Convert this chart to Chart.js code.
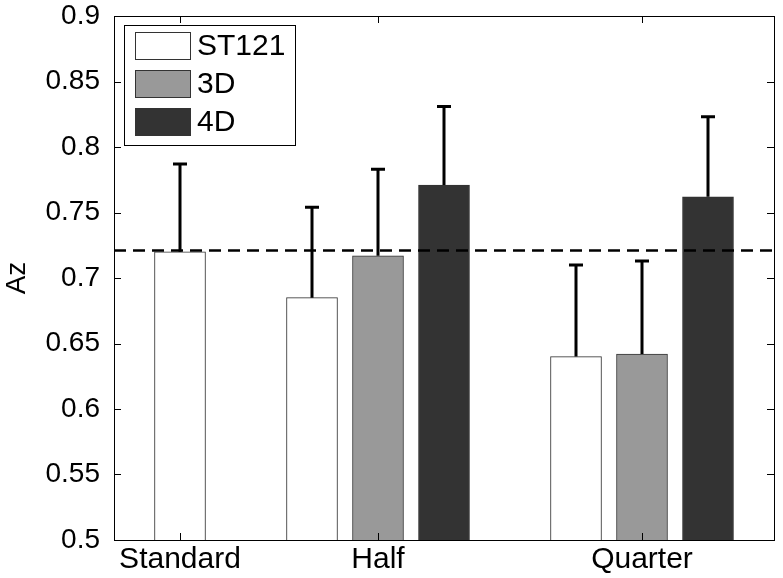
<!DOCTYPE html>
<html>
<head>
<meta charset="utf-8">
<script src="https://cdn.jsdelivr.net/npm/chart.js@4.4.0/dist/chart.umd.min.js"></script>
<style>
  html,body{margin:0;padding:0;background:#fff;}
  #wrap{width:783px;height:578px;}
</style>
</head>
<body>
<div id="wrap"><canvas id="azChart" width="783" height="578"></canvas></div>
<script>
// categories and where they sit on the x axis
const categories = ['Standard', 'Half', 'Quarter'];
const categoryX = [1.25, 2, 3];
const xRange = [1, 3.5];
const barStep = 0.25;

// series (null = not measured)
const seriesNames = ['ST121', '3D', '4D'];
const st121Values = [0.720, 0.685, 0.640];
const st121Sd = [0.067, 0.069, 0.070];
const d3Values = [null, 0.717, 0.642];
const d3Sd = [null, 0.066, 0.071];
const d4Values = [null, 0.771, 0.762];
const d4Sd = [null, 0.060, 0.061];

// y axis
const yMin = 0.5, yMax = 0.9, yStep = 0.05;
const refLevel = 0.721;

const allValues = [st121Values, d3Values, d4Values];
const allSd = [st121Sd, d3Sd, d4Sd];
const fills = ['#ffffff', '#999999', '#333333'];
const FONT = '"Liberation Sans", Arial, sans-serif';

// spread the bars of each category around its centre
function barX(ci, si){
  const present = allValues.map(v => v[ci] != null);
  const n = present.filter(Boolean).length;
  let k = 0;
  for(let s=0;s<si;s++) if(present[s]) k++;
  return categoryX[ci] + (k - (n-1)/2) * barStep;
}

const barSets = seriesNames.map((name, si) => ({
  type:'bar',
  label:name,
  data: categories.map((c, ci) => allValues[si][ci] == null ? null : {x:barX(ci, si), y:allValues[si][ci]}).filter(Boolean),
  sdev: categories.map((c, ci) => allSd[si][ci]).filter(v => v != null),
  backgroundColor: fills[si],
  borderColor: '#333333',
  borderWidth: 1,
  borderSkipped: 'start',
  barThickness: 51,
  grouped: false,
  order: 1
}));

const refLine = {
  type:'line',
  label:'ref',
  data: xRange.map(x => ({x, y:refLevel})),
  borderColor:'#000',
  borderWidth:2.5,
  borderDash:[12,7],
  pointRadius:0,
  order:-1
};

// error bars, box, inward ticks and legend
const decor = {
  id:'decor',
  afterDatasetsDraw(chart){
    const c = chart.ctx, y = chart.scales.y;
    c.save();
    c.strokeStyle = '#000'; c.lineWidth = 3; c.lineCap = 'butt';
    barSets.forEach((ds, i) => {
      const meta = chart.getDatasetMeta(i);
      meta.data.forEach((bar, j) => {
        const top = y.getPixelForValue(ds.data[j].y + ds.sdev[j]);
        c.beginPath();
        c.moveTo(bar.x, bar.y); c.lineTo(bar.x, top);
        c.moveTo(bar.x - 7, top); c.lineTo(bar.x + 7, top);
        c.stroke();
      });
    });
    c.restore();
  },
  afterDraw(chart){
    const c = chart.ctx, a = chart.chartArea, x = chart.scales.x, y = chart.scales.y;
    c.save();
    c.strokeStyle = '#000'; c.lineWidth = 1;
    c.strokeRect(Math.round(a.left)+0.5, Math.round(a.top)+0.5, Math.round(a.right-a.left), Math.round(a.bottom-a.top));
    c.beginPath();
    y.ticks.forEach(t => {
      const py = Math.round(y.getPixelForValue(t.value)) + 0.5;
      c.moveTo(a.left, py); c.lineTo(a.left + 7, py);
      c.moveTo(a.right, py); c.lineTo(a.right - 7, py);
    });
    x.ticks.forEach(t => {
      const px = Math.round(x.getPixelForValue(t.value)) + 0.5;
      c.moveTo(px, a.bottom); c.lineTo(px, a.bottom - 7);
      c.moveTo(px, a.top); c.lineTo(px, a.top + 7);
    });
    c.stroke();

    // legend
    const lx = 124, ly = 25, lw = 171, lh = 120;
    c.fillStyle = '#fff';
    c.fillRect(lx, ly, lw, lh);
    c.strokeRect(lx + 0.5, ly + 0.5, lw, lh);
    c.font = '30px ' + FONT;
    c.textBaseline = 'middle';
    barSets.forEach((ds, i) => {
      const cy = 46 + i * 38;
      c.fillStyle = ds.backgroundColor;
      c.fillRect(135, cy - 14, 56, 28);
      c.strokeStyle = '#333';
      c.strokeRect(135.5, cy - 13.5, 55, 27);
      c.fillStyle = '#000';
      c.fillText(ds.label, 197, cy + 1);
    });
    c.restore();
  }
};

new Chart(document.getElementById('azChart'), {
  type:'bar',
  data:{ datasets:[...barSets, refLine] },
  options:{
    responsive:false,
    animation:false,
    layout:{ padding:{ top:16, right:9, left:0, bottom:0 } },
    plugins:{ legend:{display:false}, tooltip:{enabled:false} },
    scales:{
      x:{
        type:'linear',
        min:xRange[0], max:xRange[1],
        offset:false,
        grid:{display:false, drawTicks:false},
        border:{display:false},
        afterBuildTicks: s => { s.ticks = categoryX.map(v => ({value:v})); },
        afterFit: s => { s.height = 38; s.paddingLeft = 0; s.paddingRight = 0; },
        ticks:{
          color:'#000',
          font:{family:FONT, size:30},
          padding:2,
          maxRotation:0,
          autoSkip:false,
          callback: v => categories[categoryX.indexOf(v)]
        }
      },
      y:{
        min:yMin, max:yMax,
        grid:{display:false, drawTicks:false},
        border:{display:false},
        afterFit: s => { s.width = 114; s.paddingTop = 0; s.paddingBottom = 0; },
        title:{ display:true, text:'Az', color:'#000', padding:0,
                font:{family:FONT, size:28} },
        ticks:{
          color:'#000',
          stepSize:yStep,
          padding:14,
          font:{family:FONT, size:28},
          callback: v => String(parseFloat(v.toFixed(2)))
        }
      }
    }
  },
  plugins:[decor]
});
</script>
</body>
</html>
